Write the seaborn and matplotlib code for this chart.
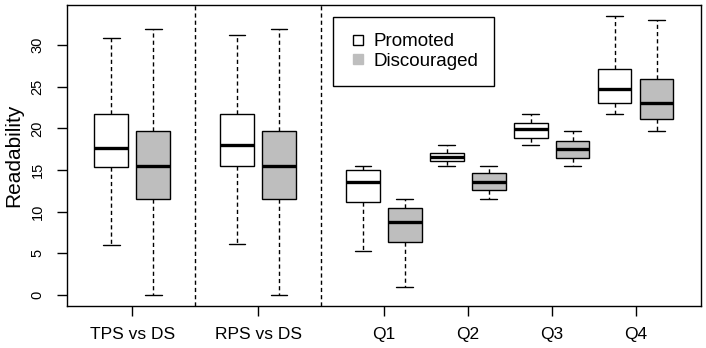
# Boxplots of readability: promoted vs discouraged
import numpy as np
import pandas as pd
import matplotlib
matplotlib.use("Agg")
import matplotlib.pyplot as plt
import seaborn as sns
from matplotlib.lines import Line2D

# Datos (min, Q1, mediana, Q3, max)
comparisons = ["TPS vs DS", "RPS vs DS", "Q1", "Q2", "Q3", "Q4"]
groups = ["Promoted", "Discouraged"]

tps_promoted = [6.0, 15.4, 17.7, 21.7, 30.9]
tps_discouraged = [0.0, 11.5, 15.5, 19.7, 32.0]
rps_promoted = [6.1, 15.5, 18.0, 21.7, 31.2]
rps_discouraged = [0.0, 11.5, 15.5, 19.7, 32.0]
q1_promoted = [5.3, 11.1, 13.6, 15.0, 15.5]
q1_discouraged = [1.0, 6.4, 8.8, 10.4, 11.5]
q2_promoted = [15.5, 16.1, 16.6, 17.1, 18.0]
q2_discouraged = [11.5, 12.6, 13.6, 14.6, 15.5]
q3_promoted = [18.0, 18.9, 19.9, 20.7, 21.7]
q3_discouraged = [15.5, 16.5, 17.5, 18.5, 19.7]
q4_promoted = [21.7, 23.1, 24.7, 27.2, 33.5]
q4_discouraged = [19.7, 21.1, 23.0, 25.9, 33.0]

promoted = [tps_promoted, rps_promoted, q1_promoted, q2_promoted, q3_promoted, q4_promoted]
discouraged = [tps_discouraged, rps_discouraged, q1_discouraged, q2_discouraged,
               q3_discouraged, q4_discouraged]

# Posiciones: los dos primeros pares separados por un hueco, los cuartiles juntos
starts = [1, 4, 7, 9, 11, 13]

rows = []
for i, comp in enumerate(comparisons):
    for j, (g, vals) in enumerate(zip(groups, [promoted[i], discouraged[i]])):
        for v in vals:
            rows.append({"pos": starts[i] + j, "value": v, "group": g, "comp": comp})
df = pd.DataFrame(rows)

sns.set_style("white")
plt.rcParams["font.family"] = ["Liberation Sans", "DejaVu Sans"]
plt.rcParams["text.color"] = "black"
plt.rcParams["axes.labelcolor"] = "black"
plt.rcParams["xtick.color"] = "black"
plt.rcParams["ytick.color"] = "black"

fig = plt.figure(figsize=(7.06, 3.48), dpi=100)
ax = fig.add_axes([0.0945, 0.1207, 0.8985, 0.8650])

dash = (0, (3, 2.2))
sns.boxplot(
    data=df, x="pos", y="value", hue="group", hue_order=groups,
    palette={"Promoted": "white", "Discouraged": "#BEBEBE"},
    native_scale=True, dodge=False, width=0.8, whis=(0, 100),
    saturation=1, linecolor="black", linewidth=1, showfliers=False,
    medianprops=dict(linewidth=2.4, color="black"),
    whiskerprops=dict(linestyle=dash, color="black"),
    capprops=dict(color="black"),
    legend=False, ax=ax,
)

for xv in [3, 6]:
    ax.axvline(xv, color="black", lw=1, linestyle=dash)

ax.set_xlim(-0.06, 15.06)
ax.set_ylim(-1.34, 34.84)
ax.set_xticks([s + 0.5 for s in starts])
ax.set_xticklabels(comparisons, fontsize=12.5)
ax.set_yticks([0, 5, 10, 15, 20, 25, 30])
ax.set_yticklabels([0, 5, 10, 15, 20, 25, 30], fontsize=10.5, rotation=90, va="center")
ax.tick_params(axis="both", direction="out", length=7, width=1, color="black",
               labelcolor="black", bottom=True, left=True)
ax.tick_params(axis="x", pad=8)
ax.tick_params(axis="y", pad=9)
ax.set_xlabel("")
ax.set_ylabel("Readability", fontsize=15, labelpad=5, color="black")
for s in ax.spines.values():
    s.set_color("black")
    s.set_linewidth(1)

handles = [
    Line2D([], [], marker="s", linestyle="none", markersize=6.5,
           markerfacecolor="white", markeredgecolor="black", markeredgewidth=1),
    Line2D([], [], marker="s", linestyle="none", markersize=7,
           markerfacecolor="#BEBEBE", markeredgecolor="#BEBEBE"),
]
leg = ax.legend(handles, groups, loc="upper left", bbox_to_anchor=(0.42, 0.96),
                borderaxespad=0, fancybox=False, framealpha=1, edgecolor="black",
                fontsize=13.5, handlelength=1, handletextpad=0.3, labelspacing=0.15,
                borderpad=0.85)
leg.get_frame().set_linewidth(1)

fig.savefig("out.png", dpi=100)
